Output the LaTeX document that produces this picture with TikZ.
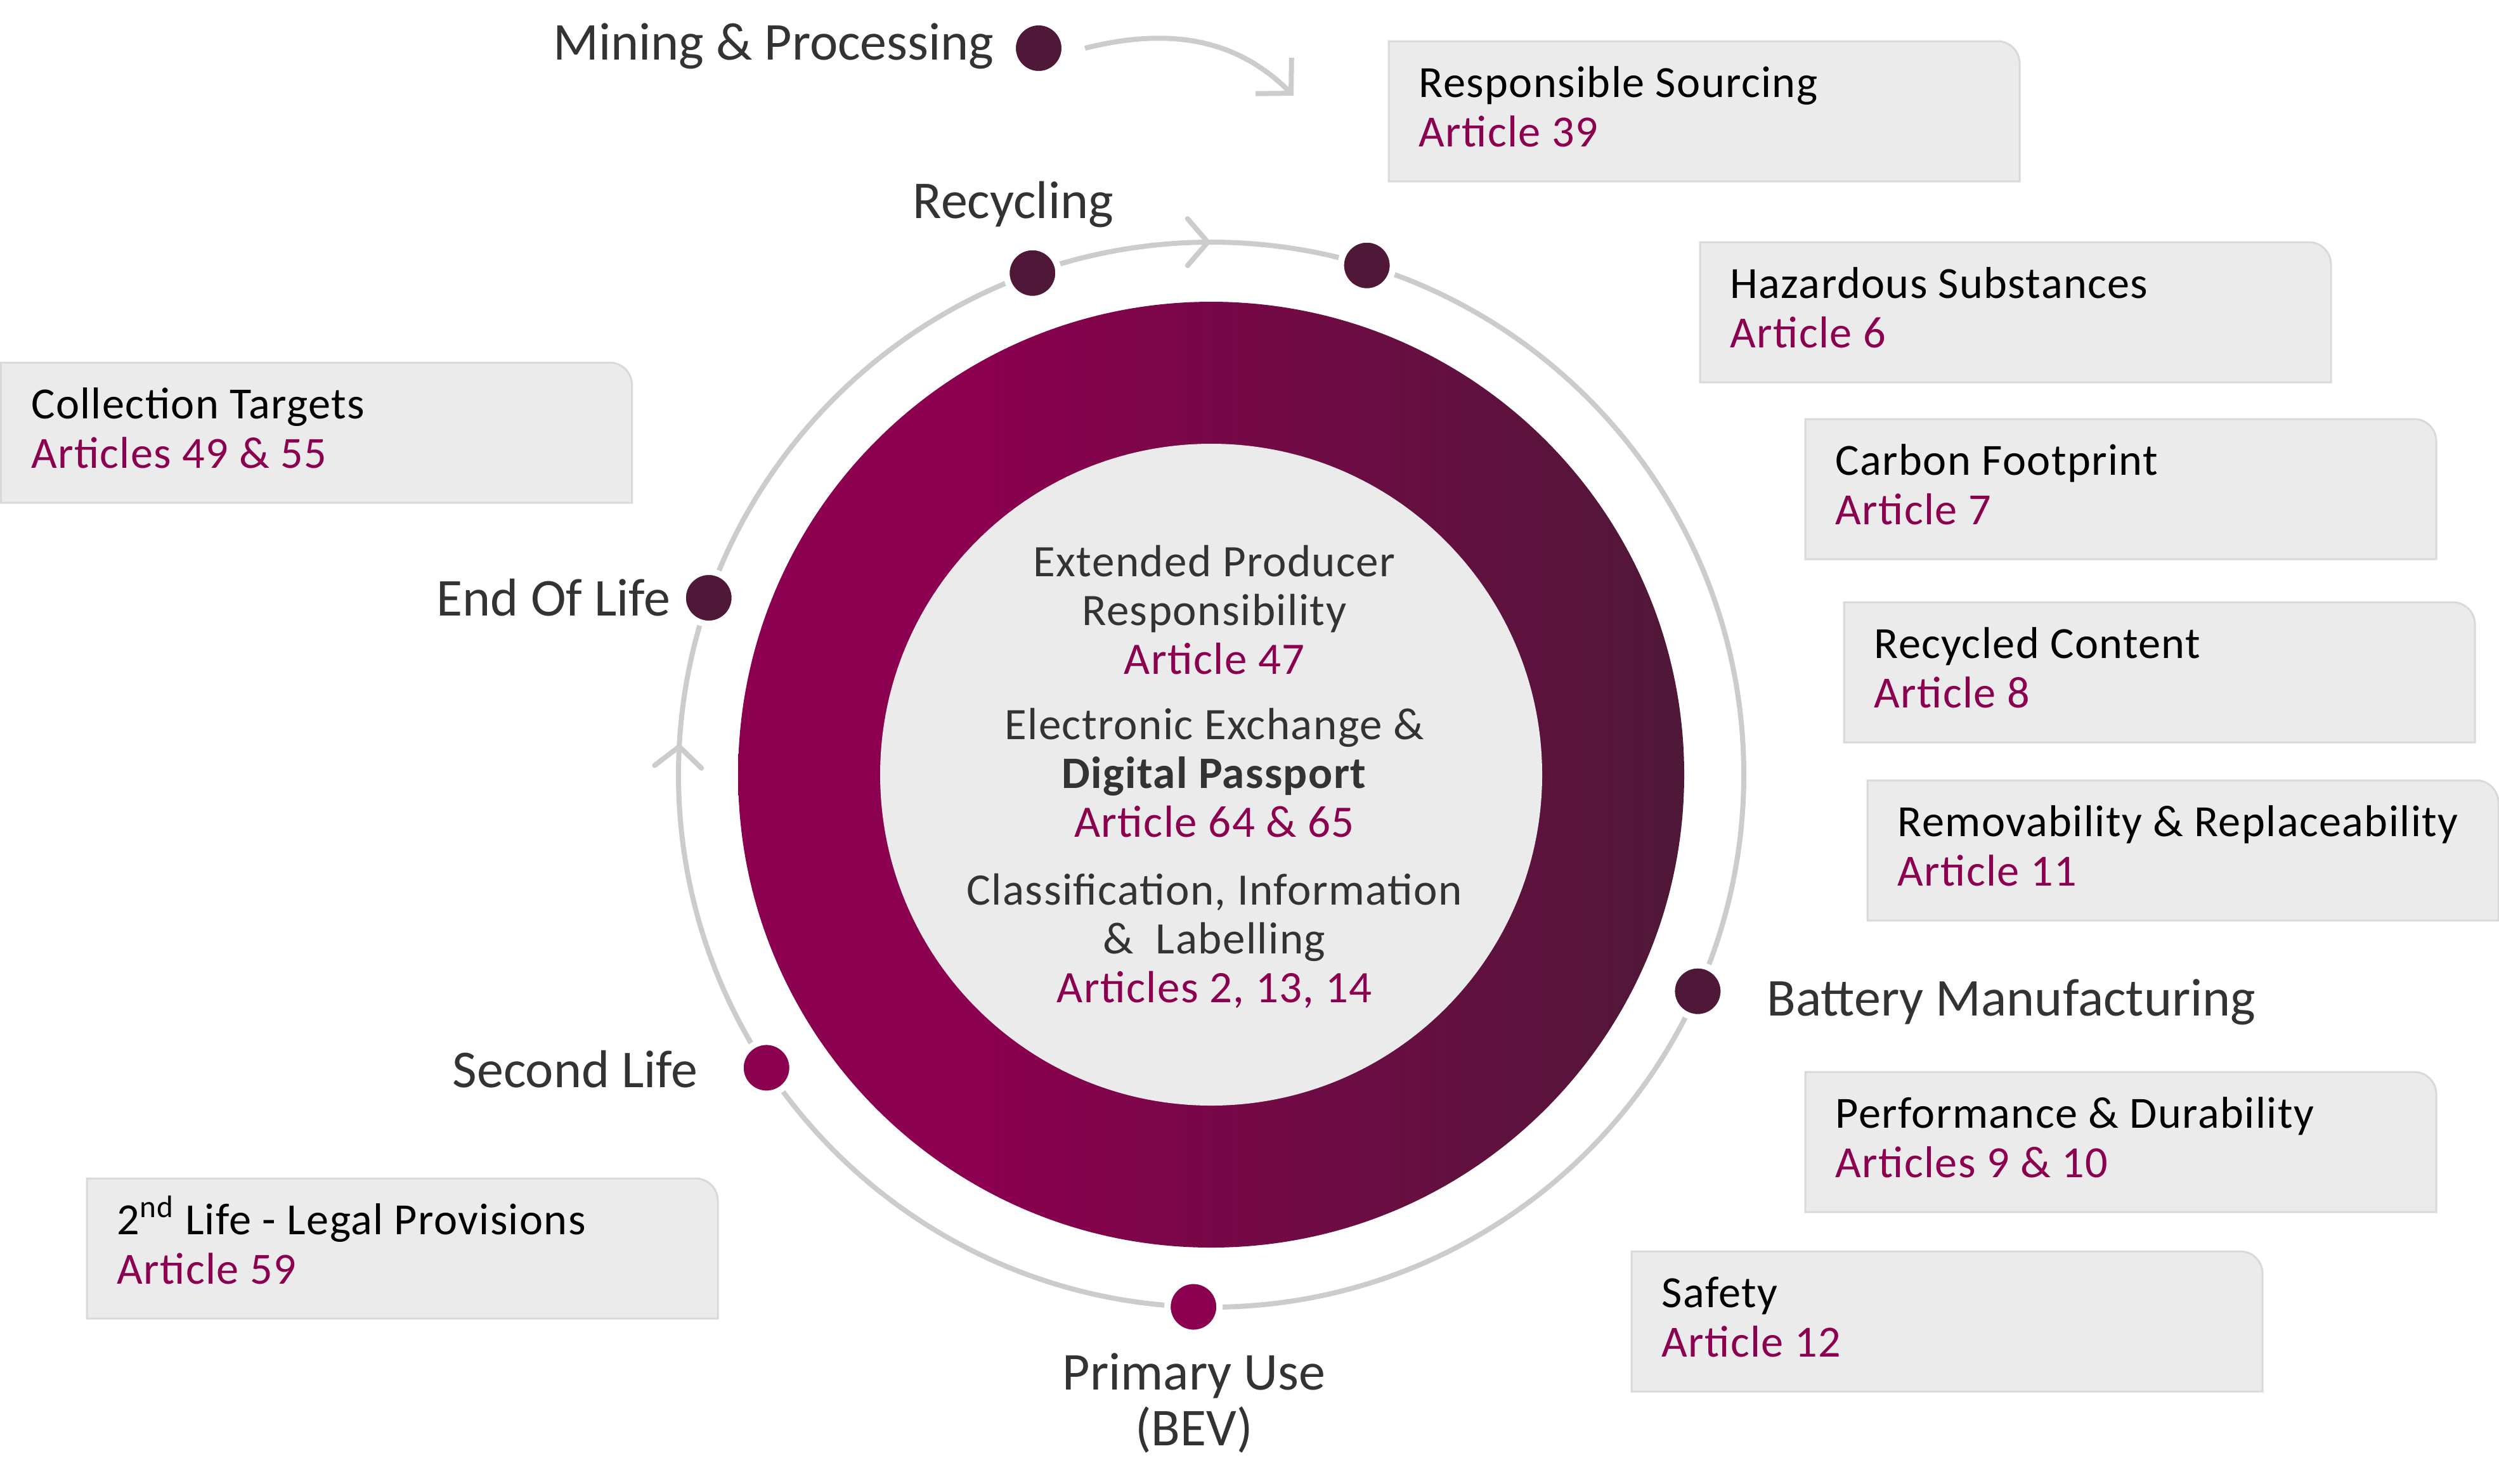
\documentclass[tikz,border=0pt]{standalone}
\usepackage{fontspec}
\setmainfont{Carlito}
\newfontfamily\ctrfont[LetterSpace=2.0]{Carlito}
\newfontfamily\boxfont[LetterSpace=2.0]{Carlito}
\usepackage{tikz}
\usetikzlibrary{arrows.meta}
\usetikzlibrary{decorations.markings}

\definecolor{bmag}{HTML}{8B004F}
\definecolor{bplum}{HTML}{4F1838}
\definecolor{panelgrey}{HTML}{EBEBEB}
\definecolor{panelline}{HTML}{D9D9D9}
\definecolor{ringgrey}{HTML}{CCCCCC}
\definecolor{txtgrey}{HTML}{333333}

\pgfdeclarehorizontalshading{discshade}{100bp}{color(0bp)=(bmag); color(25bp)=(bmag); color(38bp)=(bmag); color(75bp)=(bplum); color(100bp)=(bplum)}

% article box: name, x, y (top left corner), title, article
\newcommand{\artbox}[5]{%
  \coordinate (#1) at (#2,#3);
  \filldraw[panel] (#1) -- ++(0,-2.21) -- ++(9.95,0) -- ++(0,1.86)
    arc[start angle=0, end angle=90, radius=0.35] -- cycle;
  \node[boxtitle] (#1-t) at ([shift={(0.47,-0.88)}]#1) {#4};
  \node[boxart] (#1-a) at ([yshift=-0.78cm]#1-t.base west) {#5};
}

\begin{document}
\begin{tikzpicture}

\tikzset{chev/.tip={Straight Barb[length=0.32cm, width=0.74cm, line cap=round]}}
\tikzstyle{panel}=[fill=panelgrey, draw=panelline, line width=0.03cm]
\tikzstyle{boxtitle}=[anchor=base west, inner sep=0pt, font=\boxfont\fontsize{20}{22}\selectfont, text=black]
\tikzstyle{boxart}=[anchor=base west, inner sep=0pt, font=\boxfont\fontsize{20}{22}\selectfont, text=bmag]
\tikzstyle{stage}=[inner sep=0pt, font=\fontsize{23.9}{25}\selectfont, text=txtgrey]
\tikzstyle{ctr}=[inner sep=0pt, align=center, font=\ctrfont\fontsize{20.2}{21.9}\selectfont, text=txtgrey]
\tikzstyle{pdot}=[circle, fill=bplum, draw=white, line width=0.1cm, minimum size=0.82cm, inner sep=0pt]
\tikzstyle{mdot}=[pdot, fill=bmag]
\tikzstyle{ring}=[draw=ringgrey, color=ringgrey, line width=0.08cm, postaction={decorate},
  decoration={markings, mark=at position 0.5094 with {\arrow{chev}},
    mark=at position 0.75 with {\arrow{chev}}}]
\tikzstyle{minearrow}=[draw=ringgrey, line width=0.08cm, -{Straight Barb[length=0.39cm, width=0.8cm]}]

\useasboundingbox (0,0) rectangle (39.41,-23.40);

\coordinate (c) at (19.10,-12.22);
\shade[shading=discshade] (c) circle[radius=7.46];
\fill[panelgrey] (c) circle[radius=5.22];
\draw[ring] (c) ++(0:8.40) arc[start angle=0, end angle=-360, radius=8.40];

% stages on the cycle
\node[pdot] (recy) at ([shift={(109.6:8.40)}]c) {};
\node[pdot] (src) at ([shift={(73:8.40)}]c) {};
\node[pdot] (eol) at ([shift={(160.6:8.40)}]c) {};
\node[pdot] (manu) at ([shift={(-24:8.40)}]c) {};
\node[mdot] (second) at ([shift={(213.4:8.40)}]c) {};
\node[mdot] (use) at ([shift={(-91.9:8.40)}]c) {};
\node[pdot] (mine) at (16.38,-0.76) {};

\node[stage, anchor=base east] (minelbl) at (15.68,-0.94) {Mining \& Processing};
\node[stage, anchor=base] (recylbl) at (15.98,-3.44) {Recycling};
\node[stage, anchor=base east] (eollbl) at (10.58,-9.71) {End Of Life};
\node[stage, anchor=base west] (manulbl) at (27.86,-16.02) {Battery Manufacturing};
\node[stage, anchor=base east] (secondlbl) at (11.01,-17.15) {Second Life};
\node[stage, anchor=base, align=center] (uselbl) at (18.83,-22.80) {Primary Use\\(BEV)};

\coordinate (mineend) at (20.40,-1.51);
\draw[minearrow] ([xshift=0.27cm]mine.east) to[out=14, in=135] (mineend);

% centre
\node[ctr, anchor=base] (epr) at (19.15,-10.63)
  {Extended Producer\\Responsibility\\\textcolor{bmag}{Article 47}};
\node[ctr, anchor=base] (pass) at (19.15,-13.20)
  {Electronic Exchange \&\\\textbf{Digital Passport}\\\textcolor{bmag}{Article 64 \& 65}};
\node[ctr, anchor=base] (label) at (19.15,-15.81)
  {Classification, Information\\\&\ \ Labelling\\\textcolor{bmag}{Articles 2, 13, 14}};

% article boxes
\artbox{srcbox}{21.90}{-0.65}{Responsible Sourcing}{Article 39}
\artbox{hazbox}{26.81}{-3.82}{Hazardous Substances}{Article 6}
\artbox{co2box}{28.47}{-6.61}{Carbon Footprint}{Article 7}
\artbox{recbox}{29.08}{-9.50}{Recycled Content}{Article 8}
\artbox{remobox}{29.45}{-12.31}{Removability \& Replaceability}{Article 11}
\artbox{perfbox}{28.47}{-16.91}{Performance \& Durability}{Articles 9 \& 10}
\artbox{safebox}{25.73}{-19.74}{Safety}{Article 12}
\artbox{collbox}{0.015}{-5.72}{Collection Targets}{Articles 49 \& 55}
\artbox{lifebox}{1.37}{-18.59}{2\textsuperscript{nd} Life - Legal Provisions}{Article 59}

\end{tikzpicture}
\end{document}
